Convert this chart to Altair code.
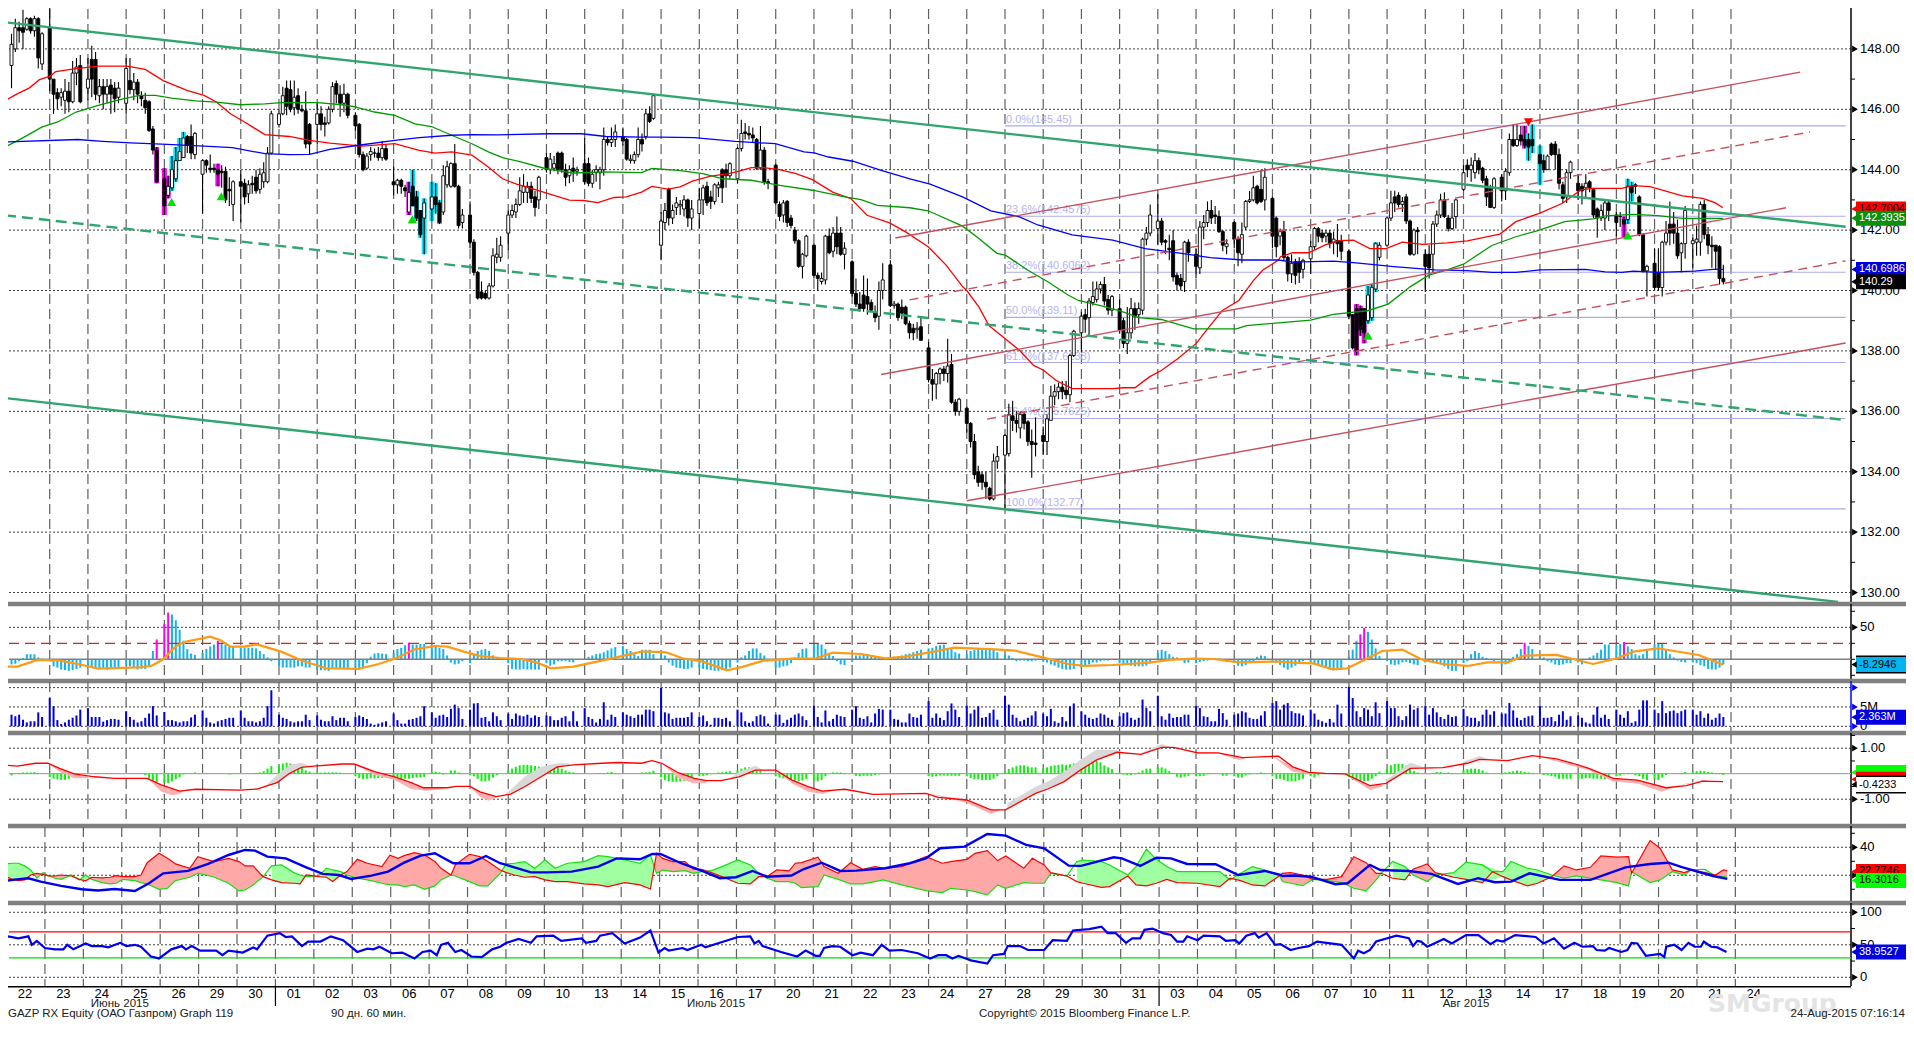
import altair as alt
import pandas as pd

# ---- day grid ----
DAY_LABELS = ["22","23","24","25","26","29","30","01","02","03","06","07","08","09","10","13","14","15","16","17","20","21","22","23","24","27","28","29","30","31","03","04","05","06","07","10","11","12","13","14","17","18","19","20","21","24"]
MONTHS = [("Июнь 2015", 29.5), ("Июль 2015", 184.7), ("Авг 2015", 379.9)]
MONTH_BREAKS = [70, 300]

# ---- hourly candles: open, high, low, close; nine per day ----
CANDLES = [
(147.45,148.5,146.7,148.15),(148,149,147.9,148.7),(148.7,148.9,148.2,148.6),(148.7,149.3,148,148.55),(148.65,149.05,148.6,149),(149,149.05,148.5,148.6),(148.6,149.1,148.4,149),(149,149.05,147.35,147.7),(147.5,148.55,147.3,148.5),
(148.7,149.4,146.6,147),(147,147,145.85,146.5),(146.55,146.7,146,146.35),(146.4,146.7,146.1,146.55),(146.3,147,145.85,146.6),(146.6,146.9,145.9,146.25),(146.25,147.6,146.2,147.2),(147.2,147.7,146.8,147.4),(147.45,147.8,146.2,146.25),
(146.7,147.7,146.3,147),(147.65,148.1,146.4,147),(147.65,147.9,146.3,146.5),(146.45,147,146.2,146.75),(146.75,147,146,146.5),(146.5,147,146.2,146.75),(146.8,147,145.85,146.5),(146.7,146.9,145.9,146.35),(146.4,146.9,146.2,146.7),
(146.2,147.7,145.85,147.35),(146.95,147.7,146.5,146.65),(146.65,147.2,146.3,146.9),(146.9,147,146.2,146.5),(146.45,146.6,146.1,146.35),(146.3,146.55,145.85,146.05),(146.25,146.3,145.25,145.3),(145.35,145.45,144.5,144.65),(144.65,144.75,143.55,143.6),
(143.7,144.05,142.5,142.8),(143.15,143.8,143.05,143.45),(143.4,144.45,143.3,144),(143.7,144.75,143.6,144.3),(144.3,145.05,144.3,144.6),(144.4,145.25,144.4,145.05),(145.1,145.15,144.55,144.8),(145.1,145.5,144.35,144.55),(144.5,145.25,144.35,145.2),
(143.85,144.35,142.55,144.3),(144.3,144.35,143.9,144.15),(144.05,144.5,143.9,144),(144.05,144.2,143.9,144),(144,144.2,143.45,143.85),(143.95,144.15,143.4,143.9),(143.95,144.1,142.9,143),(143.35,143.75,142.8,143.3),(142.85,143.65,142.3,143.6),
(143.6,144,142.25,143.45),(143.55,143.7,142.85,143.1),(143.2,143.65,142.9,143.5),(143.55,143.8,143.2,143.5),(143.75,144,143.2,143.3),(143.35,144.05,143.2,143.85),(143.6,144.25,143.4,143.9),(143.6,144.75,143.55,144.55),(144.55,145.95,144.5,145.85),
(145.5,146,145.4,145.85),(145.85,146.75,145.8,146.45),(146.7,146.95,145.8,146.1),(146.65,146.95,145.9,146),(146.05,146.95,145.8,146.4),(146.45,146.7,145.85,146),(146,146.15,145.9,145.95),(145.95,146.6,144.7,144.85),(145.5,145.55,144.5,144.85),
(145.5,146.2,144.85,145.85),(145.85,146.1,145.3,145.5),(145.55,145.75,145.1,145.5),(145.55,146.1,145.5,146),(146,146.9,145.9,146.75),(146.85,146.95,146.2,146.5),(146.5,146.8,145.75,146.2),(146.2,146.85,145.9,146.5),(146.5,146.55,145.7,145.8),
(145.8,145.9,145.3,145.45),(145.5,145.55,144.4,144.5),(144.5,144.6,143.95,144),(144.05,144.55,144,144.45),(144.5,144.75,144.3,144.6),(144.55,144.7,144.4,144.55),(144.55,144.75,144.3,144.4),(144.4,144.95,144.3,144.7),(144.7,144.85,144.3,144.35),
(143.6,144.1,143.15,143.5),(143.5,143.7,143.2,143.65),(143.65,143.7,143.2,143.45),(143.4,143.5,143.1,143.3),(142.6,143.6,142.5,143.25),(143.45,144,142.8,142.8),(143.1,143.3,142.3,142.4),(142.65,142.65,141.75,141.85),(142.4,143.05,141.2,142.9),
(142.7,143.6,142.3,143.1),(143.1,143.55,142.55,142.85),(142.9,143,142.2,142.25),(142.6,144.15,142.5,143.8),(143.5,144.3,143.4,144.1),(143.45,144.25,143.4,144.2),(144.2,144.85,143.4,143.45),(143.45,143.5,142.05,142.15),(142.25,142.7,142.05,142.5),
(142.5,142.95,141.4,141.6),(141.6,141.7,140.5,140.6),(140.6,140.65,139.7,139.75),(139.95,140.3,139.7,139.75),(139.9,140,139.7,139.75),(139.75,140.25,139.7,140.15),(140.15,141.4,140.1,141.15),(141.1,141.75,140.9,141.2),(141.1,141.8,140.95,141.5),
(141.9,142.65,141.35,142.5),(142.5,142.85,142.4,142.65),(142.6,143.05,142.4,142.85),(142.85,143.75,142.8,143.3),(143.25,143.85,142.9,143.45),(143.25,143.6,142.9,143.45),(143.45,143.6,142.9,143.05),(143.1,143.3,142.45,142.75),(143,143.8,142.7,143.75),
(144.4,144.55,143.9,144),(144,144.55,143.85,144.35),(144.05,144.45,143.95,144.2),(144.55,144.6,143.85,144),(144.55,144.6,143.9,144),(144,144.2,143.45,143.75),(143.8,144.15,143.55,144),(144.05,144.4,143.6,143.95),(143.95,144.1,143.8,144),
(144.2,145.05,143.5,143.6),(144.2,144.4,143.45,143.55),(143.55,144,143.4,143.85),(143.9,144.15,143.6,144),(143.9,144.1,143.35,144),(144,145.4,143.8,145),(145,145.1,144.8,144.9),(144.9,145.4,144.75,145),(145,145.5,144.75,145.25),
(145.1,145.4,144.8,144.95),(145,145.05,144.3,144.35),(144.3,144.5,144.2,144.35),(144.3,144.6,144.2,144.5),(144.5,145.4,144.4,145),(145,145.2,144.6,144.85),(145.1,146,145,145.85),(145.85,146.1,145.55,145.6),(145.7,146.5,145.65,146.45),
(141.5,142.6,141,142.3),(142.25,142.9,142,142.65),(143.35,143.4,142.15,142.4),(142.4,142.85,142.2,142.65),(142.75,143.1,142.5,142.9),(142.8,143,142.5,142.85),(142.7,143.15,142.45,143),(143,143.05,142.1,142.4),(142.4,143,142,142.7),
(142.55,143.4,142.05,143),(143,143.5,142.5,143.4),(143.45,143.6,142.8,142.9),(143.1,143.3,142.7,142.95),(142.95,143.55,142.85,143.5),(143.4,143.6,143.1,143.5),(144,144.05,142.9,143.4),(144,144.2,143.4,143.8),(143.8,144.25,143.7,144.2),
(143.7,144.75,143.55,144.7),(144.7,145.65,144.6,145.2),(145.25,145.55,145,145.2),(145.2,145.45,145,145.15),(145.15,145.4,144.9,145.05),(145,145.05,144,144.05),(144.05,145.45,144,144.65),(144.65,144.75,143.5,143.6),(143.6,143.7,143.35,143.55),
(144.15,144.2,142.85,142.9),(142.85,142.95,142.3,142.45),(142.5,143,142.25,142.9),(142.95,143,142.1,142.25),(142.4,142.5,142.05,142.15),(142,142.1,141.55,141.65),(141.65,141.7,140.75,140.8),(140.8,141.25,140.4,141.2),(141.15,141.85,141.1,141.8),
(141.5,141.55,140.4,140.5),(140.5,140.6,140,140.4),(140.3,140.6,140.2,140.4),(140.35,141.85,140.2,141.8),(141.8,142.05,141.2,141.25),(141.3,142.1,141.1,141.9),(141.9,142.45,141.2,141.45),(141.9,142.1,141.15,141.2),(141.2,141.6,140.7,141.4),
(140.95,141,139.8,139.9),(139.9,140.4,139.45,139.55),(139.55,139.95,139.3,139.4),(139.85,140.5,139.3,139.4),(139.8,140.4,139.2,139.55),(139.6,139.7,139.3,139.35),(139.3,139.5,138.95,139.1),(139.15,140.3,138.7,140),(140,140.9,139.7,140.35),
(140.85,141,139.45,139.5),(139.5,139.65,139.4,139.55),(139.55,139.6,139,139.1),(139.45,139.7,139.05,139.25),(139.45,139.5,138.85,138.9),(138.9,139,138.4,138.6),(138.75,138.9,138.35,138.6),(138.7,138.95,138.4,138.75),(138.8,139.1,138.35,138.35),
(138.1,138.3,136.95,137.05),(137.05,137.4,136.35,136.9),(136.9,137.3,136.4,137.25),(137.25,137.45,136.9,137.4),(137.4,137.5,137,137.25),(137.25,138.4,136.95,137.5),(137.55,137.9,136.25,136.3),(136.3,136.4,135.85,136),(136,136.45,135.85,136.4),
(136.1,136.15,135.3,135.6),(135.6,135.65,134.8,135),(135,135.25,133.75,133.9),(134,134.2,133.5,133.65),(133.9,134,133.4,133.65),(133.65,134,133.1,133.5),(133.45,133.5,133.05,133.1),(133.1,134.6,133.05,134.35),(134.35,134.85,134.1,134.5),
(134.55,135.25,132.8,135.2),(134.6,136.25,134.5,135.9),(135.85,136.35,135.35,135.7),(135.7,136,135.3,135.6),(135.45,136,135.1,135.9),(135.9,136,135.4,135.6),(135.65,135.7,134.85,135),(135,135.4,133.8,134.9),(134.95,135.8,134.5,134.9),
(135.2,135.5,134.55,135),(135,135.9,134.55,135.75),(135.7,136.85,135.7,136.5),(136.5,136.9,136.2,136.65),(136.65,136.95,136.4,136.8),(136.8,137,136.4,136.65),(136.7,137,136.4,136.55),(136.55,137.9,136.3,137.85),(137.85,138.7,137.8,138.65),
(138.6,139.3,137.95,139.15),(139.2,139.4,138.6,139.05),(139.1,139.75,138.5,139.65),(139.6,140.3,139.5,139.8),(139.7,140.3,139.6,140.05),(140.05,140.3,139.9,140.2),(140.2,140.45,139.5,139.65),(139.7,139.85,139.2,139.35),(139.35,139.85,139.15,139.8),
(139.4,139.7,138.6,138.7),(139,139.1,138.1,138.25),(138.25,139.45,137.9,138.6),(138.6,139.75,138.4,139.4),(139.4,139.6,138.7,139.15),(139.2,139.6,138.9,139.4),(139.35,141.75,139.2,141.7),(141.7,142.1,141.5,141.9),(141.9,142.85,141.8,142.5),
(142.05,143.2,141.5,142.3),(142.3,142.4,141.5,141.6),(141.65,141.7,141.2,141.6),(141.4,141.85,141,141.35),(141.65,142,140.3,140.45),(140.5,140.6,140,140.2),(140.4,140.55,140,140.15),(140.3,141.65,139.95,141.6),(141.6,141.7,140.95,141.25),
(141.2,141.4,140.4,140.8),(140.75,142.3,140.55,142.1),(142.1,142.5,141.7,142.25),(142.25,142.95,142.1,142.65),(142.65,143,142.2,142.4),(142.5,142.8,142.2,142.45),(142.45,142.65,141.9,141.95),(141.95,142,141.3,141.5),(141.45,141.7,141.2,141.55),
(142.25,142.3,141.4,141.7),(141.7,141.8,140.8,141.25),(141.2,142.25,140.9,141.85),(142.1,143,142,142.95),(142.95,143.3,142.9,143),(143,143.8,142.95,143.4),(143.45,143.5,142.85,142.9),(143.35,144,142.9,142.95),(143,144.05,142.65,143.75),
(143.05,143.1,141.4,141.8),(142.4,142.45,141.1,141.45),(141.8,142.05,141.5,141.95),(141.95,142.3,141,141.1),(141.1,141.15,140.3,140.55),(140.55,141.2,140.25,140.9),(140.95,141.05,140.2,140.5),(140.95,141.1,140.25,140.6),(140.7,141.05,140.4,141),
(141.05,141.65,140.55,141.45),(141.45,142.1,141.35,142.05),(142.05,142.1,141.6,141.8),(141.9,142,141.6,141.75),(141.8,142,141.6,141.9),(141.9,142,141.4,141.55),(141.6,141.95,141.2,141.7),(141.65,142.2,141.1,141.55),(141.65,141.85,141,141.3),
(141.3,141.35,139.05,139.15),(139.2,139.2,138.05,138.1),(139.4,139.55,137.85,138),(139.4,139.5,138.5,138.7),(139.4,139.4,138.25,138.6),(139,140.15,138.9,139.85),(139.1,140.2,139,140.1),(140.05,141.6,139.95,141.55),(141.1,141.6,141,141.5),
(141.5,142.45,141.45,142.4),(142.4,143.3,142.3,142.9),(143.1,143.3,142.6,142.9),(143.15,143.25,142.75,142.85),(142.85,143.1,142.6,142.95),(143.1,143.2,142.2,142.3),(142.3,142.35,141.15,141.2),(141.2,142.05,141.15,142),(142,142.1,141.2,141.95),
(141.2,141.35,139.95,140.8),(141.2,141.5,140.4,140.75),(141.2,142.3,140.6,142.2),(142.2,142.65,142.1,142.5),(142.5,143.2,142.4,143),(143,143.25,142.4,142.45),(142.4,142.5,141.95,142.05),(142.05,142.9,142,142.4),(142.45,143.05,142.05,143),
(143.35,144.15,143.3,143.9),(144.15,144.35,143.75,144),(144,144.4,143.6,144.15),(143.9,144.55,143.7,144.3),(144.3,144.4,143.85,144),(144.05,144.1,143.55,143.65),(143.7,143.8,142.8,143.1),(143.4,143.5,142.75,142.75),(142.75,143.75,142.7,143.7),
(143.75,143.85,142.95,143.3),(143.3,144.05,143,143.95),(143.9,145.2,143.8,145),(145,145.5,144.75,144.8),(144.8,145.5,144.75,145),(145.15,145.45,144.8,144.95),(145,145.45,144.7,144.8),(145,145.2,144.3,144.75),(145,145.5,144.55,144.8),
(144.5,144.8,143.5,144.2),(144.3,144.5,143.9,144),(144,144.5,144,144.45),(144.85,144.9,144.45,144.5),(144.85,144.95,144,144.5),(144.5,144.7,143.35,143.55),(143.5,143.6,142.9,143.05),(143.1,144,142.9,143.9),(143.9,144.3,143.7,144.25),
(143.55,143.85,143,143.3),(143.45,143.55,142.85,143.3),(143.4,143.85,143.1,143.55),(143.6,143.65,143.25,143.4),(143.35,143.4,142.4,142.5),(142.7,142.75,141.75,142.4),(142.4,142.85,142.3,142.65),(142.4,143,142,142.9),(142.9,143,142.3,142.65),
(142.5,142.6,141.8,142.25),(142.45,142.6,142.1,142.45),(142.35,142.45,141.75,142.2),(142.35,143.7,142.2,143.45),(143.45,143.6,142.95,143.25),(143.5,143.55,143.2,143.45),(143.1,143.15,141.8,141.85),(141.85,141.9,140.6,140.65),(140.65,140.85,139.8,140.8),
(140.9,141.4,140,140.1),(140.6,141.4,140,140.1),(140.1,141.65,139.8,141.6),(141.6,142.3,141.5,141.9),(142.2,142.95,141.5,141.9),(142.2,142.6,141.55,141.9),(141.9,142.35,141.05,141.15),(141.25,141.6,140.6,141.55),(141.55,142.8,141.05,142.65),
(141.55,141.75,140.75,141.65),(141.6,142.15,141.15,141.7),(141.6,142.95,141.15,142.85),(142.85,143,141.7,141.85),(141.85,142.1,141.2,141.5),(141.5,141.8,140.75,141.45),(141.5,141.5,140.7,141.3),(141.45,141.5,140.2,140.4),(140.4,140.85,140.2,140.29),
]
MAGENTA_BARS = [38, 40, 41, 54, 104, 352, 353, 354, 396, 422]
CYAN_BARS = [42, 43, 44, 45, 105, 106, 107, 108, 110, 111, 112, 355, 356, 357, 397, 398, 400, 423, 424]
BUY_MARKS = [(41.9, 142.93), (54.9, 143.12), (104.9, 142.36), (355, 138.5), (423, 141.82)]
SELL_MARKS = [(397, 145.57)]

MA_RED_I = [-1.7,1.5,4.7,7.3,10,11.6,16.4,22.7,30.2,35,39.7,46.1,50.4,53.6,57.3,61,66.3,72.7,78,83.3,91.8,100.3,106.7,110.9,115.2,120.5,124.8,128.5,132.2,137.5,146,149.7,153.5,157.7,160.9,164.9,167.6,171.8,175,178.2,183,187.8,190.4,193.6,196.8,201,205.3,209.6,214.9,219.7,223.9,229.8,234,239.9,244.6,248.9,250,253.2,255.8,259.5,263.8,267.5,270.1,273.3,277.6,288.2,290.9,294,297.8,301,305.2,310,312.7,316.9,321.2,325,327.5,331.6,332.1,335.3,339.5,343.8,347.5,351.2,355.5,359.7,364,369.3,375.7,381,389.5,393.7,400,405.9,410.7,413.9,421.4,424.5,428.8,437.3,442.6,445.8,447.9]
MA_RED_P = [146.29,146.51,146.71,146.98,147.09,147.25,147.34,147.43,147.43,147.32,146.95,146.62,146.46,146.24,145.85,145.58,145.16,145.1,144.97,144.88,144.78,144.86,144.64,144.55,144.59,144.48,144.09,143.7,143.52,143.32,142.99,142.98,142.91,143.08,143.1,143.26,143.45,143.36,143.43,143.62,143.79,143.87,143.95,144.07,144.07,144,143.87,143.67,143.26,143.04,142.49,142.24,141.94,141.45,140.84,140.13,140,139.45,138.84,138.46,138.02,137.52,137.36,137.03,136.75,136.75,136.78,136.78,137.14,137.36,137.74,138.24,138.68,139.34,139.67,140.33,140.68,141.01,141.12,141.25,141.25,141.51,141.65,141.67,141.39,141.39,141.6,141.53,141.58,141.64,141.87,142.28,142.56,142.89,143.33,143.38,143.38,143.47,143.44,143.13,143.05,142.91,142.74]
MA_GREEN_I = [-1.7,2.6,7.9,12.1,16.9,22.7,28.1,33.4,37.6,41.9,48.2,53.6,59.9,66.3,70.6,80.1,86.5,89.7,95,100.3,105.6,109.9,115.2,120.5,124.8,128.5,133.3,139.6,147.1,154.5,164.9,167.6,174.5,180.9,186.2,193.6,201.1,209.6,218.1,222.3,226.6,235.1,239.9,248.9,252.6,257.9,260.1,265.9,271.2,276.5,279.2,285,290.3,295,300.9,309.4,320.6,323.2,331.6,340,345.9,354.9,360.3,366.1,370.9,375.7,380,387.4,393.7,399,406.5,413.9,417.1,424.5,430.9,437.3,447.9]
MA_GREEN_P = [144.75,145.03,145.41,145.58,145.91,146.13,146.31,146.46,146.46,146.37,146.28,146.24,146.15,146.18,146.22,146.22,146.15,146.09,145.91,145.8,145.52,145.43,145.14,144.86,144.59,144.4,144.26,144.04,143.89,143.93,143.9,144.04,143.98,143.87,143.7,143.65,143.48,143.32,143.1,143.01,142.82,142.74,142.64,142.13,141.78,141.23,141.17,140.68,140.29,139.85,139.67,139.5,139.32,139.1,139.04,138.73,138.73,138.84,138.93,139.02,139.21,139.33,139.55,140.13,140.51,140.68,140.87,141.49,141.78,141.97,142.28,142.37,142.47,142.52,142.48,142.39,142.39]
MA_BLUE_I = [-1.7,17.4,23.8,31.2,40.8,50.4,57.8,66.3,72.7,78,83.3,90.8,100.3,106.7,115.2,120.5,126.9,140.7,149.2,155.6,164.9,170.2,178.7,189.4,199.9,207.4,210.1,213.8,220.2,227.6,235.1,240.4,248.9,256.3,263.8,268.6,277.6,288.2,296.7,306.2,313.7,322.2,331.6,335.3,345.9,351.2,361.8,372.5,381,387.4,393.7,400,411.8,417.1,421.4,424.5,430.9,440.5,445.3,447.9]
MA_BLUE_P = [144.92,145,144.94,144.89,144.84,144.78,144.73,144.53,144.5,144.51,144.67,144.81,144.97,145.06,145.14,145.16,145.15,145.19,145.19,145.1,145.08,145.08,145.06,144.94,144.86,144.59,144.56,144.42,144.28,143.98,143.7,143.52,143.1,142.64,142.44,142.17,141.84,141.67,141.39,141.23,141.09,141.01,141.01,140.94,140.97,140.92,140.79,140.68,140.66,140.6,140.6,140.68,140.7,140.62,140.6,140.64,140.6,140.64,140.7,140.7]

# trend lines: start bar, start price, end bar, end price
GREEN_SOLID = [(-1.7,148.88,480,142.11), (-1.7,136.44,478,129.69)]
GREEN_DASH = [(-1.7,142.49,480,135.71)]
RED_SOLID = [(231.3,141.74,468.1,147.23), (227.6,137.22,464.4,142.74), (250,133.04,480,138.26)]
RED_DASH = [(235,139.69,470.7,145.25), (255.3,135.74,480,140.98)]
FIB_LEVELS = [145.45,142.4575,140.6062,139.11,137.6138,135.7625,132.77]
FIB_TEXTS = ["0.0%(145.45)","23.6%(142.4575)","38.2%(140.6062)","50.0%(139.11)","61.8%(137.6138)","76.4%(135.7625)","100.0%(132.77)"]

# ---- oscillator histogram and signal ----
OSC_HIST = [
-8,-7,-3,2,8,8,8,3,-2, -2,-11,-13,-16,-17,-18,-17,-15,-13, -10,-13,-13,-15,-15,-16,-15,-15,-15, -9,-11,-13,-16,-15,-15,-12,13,31,
55,73,70,61,46,29,16,9,7, 10,16,20,23,29,26,23,20,20, 18,18,18,18,17,13,8,3,-3, -10,-13,-13,-13,-13,-11,-11,-13,-13,
-16,-17,-17,-18,-14,-14,-14,-14,-14, -13,-15,-13,-6,4,9,10,9,8, 10,16,18,22,26,23,23,24,24, 23,21,18,16,6,-5,-8,-7,-3,
-6,8,13,15,16,13,6,3,2, -6,-15,-16,-16,-15,-16,-16,-16,-16, -6,-10,-8,-3,-3,-3,-4,-5,0, 1,4,6,8,9,11,14,17,19,
21,16,13,8,5,15,15,15,8, 9,6,-5,-10,-13,-14,-15,-15,-13, -13,-15,-16,-17,-18,-18,-17,-16,-13, -5,3,6,13,17,17,10,6,-3,
-13,-13,-11,-10,-6,3,10,16,17, 25,25,23,16,10,5,-3,-8,-9, -4,6,6,8,8,6,5,3,3, 2,4,5,6,8,9,11,13,15,
17,18,21,22,23,18,16,11,9, 8,13,15,16,17,17,16,15,11, 8,6,2,-3,-2,-2,-3,-3,-2, -4,-5,-8,-10,-13,-15,-16,-16,-15,
-13,-10,-8,-5,-5,-3,-2,-2,0, -6,-8,-9,-10,-11,-11,-11,-10,-6, 10,15,13,8,4,3,0,-6,-5, -6,-4,-3,-2,2,2,1,-3,-4,
-6,-10,-11,-9,-5,-4,4,6,5, -5,-6,-9,-13,-16,-13,-10,-6,-3, -5,-8,-9,-11,-13,-16,-17,-17,-16, 4,15,29,39,49,43,31,17,5,
-3,-8,-9,-8,-5,-4,-6,-8,-9, -5,-3,-4,-6,-8,-11,-15,-18,-18, -6,-3,8,13,10,4,2,0,-3, -10,-8,-3,4,8,16,26,21,16,
9,3,-3,-5,-8,-9,-8,-6,-6, -5,-8,0,3,6,10,15,23,23, 23,24,27,20,16,8,6,8,15, 23,25,25,16,8,3,-2,-4,-5, -5,-6,-9,-11,-15,-16,-16,-13,-8,
]
MAGENTA_HIST = [38, 40, 41, 54, 104, 353, 354, 396, 422]
OSC_SIG_I = [-1.7,1.5,4.7,6.8,12.6,17.4,22.7,33.4,36.6,39.7,42.9,45.1,49.3,52,54.6,57.3,61,64.2,70.6,75.9,82.3,90.8,96.1,100.3,105.6,110.9,114.1,118.4,122.6,128,133.3,137.5,141.2,147.1,154.5,164.9,167.1,171.3,175.6,180.9,187.3,191.5,196.8,204.3,210.6,214.9,222.3,228.7,234,241.4,246.8,257.4,262.7,270.1,276.5,280.7,288.2,297.8,303.1,309.4,314.7,321.2,331.6,335.3,340.6,345.9,349.6,354.4,358.7,364,369.3,374.6,381,386.3,391.6,395.9,404.3,408.6,413.9,420.3,424.5,430.9,435.1,441.5,447.9]
OSC_SIG_V = [-11.5,-11.5,-5.2,-1,-2,-7.3,-14.6,-12.5,-10.4,0,19.8,27,31.8,35.4,30.2,19.8,19.8,23.4,12,-2,-14,-15,-7.3,1,15.6,20.8,19.8,12,5.2,2,.5,-5.2,-14,-11.5,-2,12,12,10.9,1.6,-3.6,-17.2,-11.5,-2,1,1.6,10.4,8.3,1.6,4.2,12,18.2,15.6,13.5,2.6,-7.3,-10.4,-8.9,-5.2,-1,1,.5,-4.7,-3.6,-5.2,-6.3,-15.6,-14,0,13,15.1,-1,-7.3,-10.4,-4.7,-4.7,5.7,6.8,.5,-7.3,1.6,12,17.2,13,6.8,-8.3]

# ---- volume, millions ----
VOLUME = [
3,2.6,3,1.7,1,1.3,1.3,3.6,2.4, 7.3,5.2,1.6,.6,1,1.7,2.2,2.8,4.3, 4.7,2.4,2.4,2.4,1.2,1.6,1.9,1.9,1.7, 3.9,2.4,1.7,1,1.3,2.2,3.3,5.2,2.8,
3.7,1.6,1.6,1.3,1,1.3,1.3,2.3,3, 4.1,2.2,1,.7,1.3,1.6,1.9,2.2,2.2, 4.1,2.2,1.3,1.3,1,1.3,2.2,5.2,9.3, 3,2.2,1.9,1.3,1,1.3,1.3,3,1.6,
2.8,1.7,1.3,1.3,2.6,1.6,2.2,2.2,1.3, 2.4,2.8,2.4,1.9,.7,.4,.7,1,1.3, 3.3,1.6,.7,.7,1.7,1.9,2.2,2.6,5.2, 3.6,2.2,2.8,3,2.4,4.5,5.6,4.7,1.9,
4.3,5.9,6,2.2,2.4,1.3,3.6,2.6,1.6, 3.3,1.9,3.3,2.8,2.6,3,2.2,2.8,2.4, 2.8,2.6,1.6,1.6,2.2,2.6,1.3,3.9,1.3, 4.7,2.4,1.9,1,1.9,6.2,1.7,3,2.4,
3.6,3,2.6,2.2,3,3,4.3,4.3,3.9, 9.9,3.6,3.3,1.9,2.2,2.2,2.2,2.4,3.6, 2.4,2.8,1.3,.4,2.2,2.2,1.9,2.2,1.3, 4.3,3.6,1.3,.9,1.3,2.6,3,2.6,.7,
3,3,.9,1.7,2.2,3,3.3,2.6,1.6, 5.3,2.4,1,4.1,1.3,1.9,3,2.6,2.4, 4.3,5.2,2.2,1.9,2.6,1,3.3,4.5,4.3, 4.3,1.9,1.7,1,1,3.3,2.4,2.2,3,
6.5,2.2,3.3,2.2,1.6,3.9,5.9,4.3,2.4, 5.3,3.3,4.3,5.2,2.2,2.4,3.4,4.3,1.7, 7.9,5.6,3,2.2,1.3,1.7,2.2,2.8,3.9, 3.3,2.6,4.5,1.3,.9,2.4,1.3,5.2,5.9,
3.9,3,2.2,1.9,2.2,3.3,3,2.2,1.7, 2.6,3.4,3.6,2.2,1.7,2.2,6.9,4.7,3.9, 7.9,2.6,1.7,3.3,2.2,2.4,2.4,3,3, 5.2,4.7,2.6,2.4,1.3,1.3,4.5,3.4,1.7,
3,3.3,3.9,3.6,2.2,1.9,1.9,2.8,3.9, 6,6.5,4.3,5.6,6,3.9,3.4,3.3,2.8, 4.3,3.3,1.7,1.3,.9,1.9,1,5.6,3.3, 10.2,7.3,3.9,2.4,4.7,4.3,2.6,6.2,3.4,
6.5,4.7,4.7,2.6,1.6,2.6,5.6,4.3,4.7, 5.2,3,4.7,3.6,2.4,1.9,3,2.4,2.6, 4.5,2.6,2.2,2.2,1.3,3,4.3,3,3.9, 3.3,3.3,6,4.1,2.2,1.6,2.2,2.6,2.8,
5.2,2.2,2.2,2.4,1.3,3,3.9,1.7,2.6, 2.8,2.2,1,.7,3,5,2.2,3,1.9, 4.3,3,2.2,3.9,.9,1.3,4.3,6.7,6.7, 4.3,3.4,6.5,3.4,3.9,4.1,3.4,3.9,4.3, 4.3,3,3.9,2.2,3.3,1.7,2.2,3.3,2.4,
]

# ---- MACD histogram, line and shaded gaps ----
MACD_HIST = [
-.07,.03,.03,.05,.05,.05,.06,.02,0, -.13,-.2,-.22,-.24,-.24,-.2,-.1,-.07,0, 0,0,.03,.03,.03,.03,.02,0,0, 0,0,0,0,0,-.05,-.2,-.27,-.33,
-.35,-.37,-.3,-.22,-.13,-.03,0,0,.05, 0,.03,0,0,0,0,0,-.03,0, 0,0,0,0,.03,.05,.1,.2,.3, .3,.4,.43,.4,.37,.3,.22,.13,.08,
.06,.04,.05,.05,.06,.05,.04,.02,0, -.1,-.17,-.22,-.2,-.18,-.18,-.17,-.17,-.17, -.2,-.22,-.22,-.2,-.2,-.17,-.15,-.15,-.13, .07,.08,.05,-.03,.02,.13,.13,.05,.03,
-.06,-.1,-.2,-.3,-.3,-.27,-.15,-.05,0, .13,.2,.27,.33,.35,.35,.33,.3,.28, .3,.33,.33,.28,.2,.13,.07,.05,.02, .02,0,0,0,.03,.03,.05,.07,.03,
.03,0,0,0,0,.05,.05,.07,.12, -.15,-.25,-.3,-.32,-.32,-.3,-.28,-.25,-.2, -.1,-.08,-.05,-.02,0,.05,.06,.08,.1, .13,.2,.25,.25,.22,.18,.12,.03,0,
-.1,-.15,-.18,-.2,-.25,-.27,-.3,-.27,-.2, -.27,-.3,-.25,-.1,0,.05,.05,.05,.03, 0,-.08,-.1,-.08,-.08,-.08,-.05,-.03,.02, .02,.02,0,0,0,0,0,0,0,
-.1,-.12,-.1,-.07,-.07,-.08,-.08,-.08,-.08, -.1,-.17,-.22,-.22,-.25,-.25,-.25,-.2,-.1, .08,.18,.25,.3,.33,.33,.28,.25,.25, .2,.25,.3,.33,.35,.37,.35,.37,.4,
.47,.52,.52,.5,.5,.45,.33,.25,.18, .05,-.03,-.05,-.05,-.02,.05,.13,.2,.2, .27,.25,.2,.1,.02,-.12,-.15,-.12,-.08, -.1,-.1,-.08,-.02,-.01,0,0,-.08,-.08,
-.1,-.15,-.15,-.07,-.03,0,.02,.05,.03, -.1,-.2,-.2,-.25,-.3,-.3,-.3,-.25,-.2, -.1,-.15,-.05,0,0,0,0,0,0, -.15,-.25,-.3,-.3,-.3,-.28,-.2,-.1,.08,
.2,.33,.38,.4,.38,.32,.2,.1,.05, .02,0,.03,.07,.07,.03,.05,.02,.02, .13,.18,.2,.2,.18,.13,.05,0,0, -.03,.05,.07,.1,.13,.1,.07,.05,.03,
0,-.05,-.05,-.1,-.12,-.2,-.2,-.2,-.2, -.2,-.2,-.18,-.18,-.2,-.2,-.2,-.22,-.2, -.1,-.07,-.02,.03,0,-.05,-.1,-.2,-.25, -.22,-.25,-.15,-.05,0,0,0,.03,.07, .07,.1,.12,.1,.07,.05,.03,.02,-.05,
]
MACD_I = [-1.7,1.5,6.3,9.5,12.6,16.4,21.7,27,35.5,39.2,44,48.2,59.9,64.2,69.5,72.7,75.9,79.1,86.5,89.7,95,100.3,104.6,107.8,114.1,116.3,120,122.6,126.9,130.6,134.3,138.6,142.8,147.1,154.5,158.8,164.9,167.6,170.2,174.5,178.7,181.9,185.7,190.4,194.7,200,204.3,208.5,212.2,218.1,225.5,239.3,242.5,250,256.3,260.1,268,271.2,275.5,279.7,284,289.3,295.6,301,304.1,310.5,315.8,322.2,331.6,335.3,339.5,343.8,349,355.5,359.7,366.1,374.6,381,384.2,391.6,398,404.3,408.6,412.8,419.2,425.5,433,438.3,442.6,447.9]
MACD_V = [.34,.3,.41,.41,.21,-.01,-.12,-.18,-.18,-.44,-.68,-.61,-.64,-.6,-.35,.01,.25,.3,.38,.38,.08,-.12,-.35,-.55,-.55,-.5,-.5,-.71,-.9,-.8,-.51,-.12,.27,.35,.41,.44,.41,.51,.41,.04,-.18,-.27,-.27,-.12,.14,.14,-.25,-.51,-.68,-.61,-.81,-.77,-.93,-1.03,-1.42,-1.42,-.77,-.6,-.31,.14,.54,.84,.76,1.03,1.03,.82,.82,.63,.69,.27,.05,.01,-.01,-.47,-.38,.21,.24,.41,.56,.51,.71,.58,.41,.21,-.18,-.25,-.55,-.47,-.29,-.31]
PINK_GAPS = [
[(9.5,.41,.41),(12.6,.21,.08),(16.4,-.01,-.18),(20.1,-.12,-.18)],
[(35.5,-.18,-.18),(39.2,-.44,-.7),(41.9,-.6,-.84),(44,-.68,-.8),(45.1,-.66,-.67)],
[(89.7,.38,.38),(95,.08,-.05),(100.3,-.12,-.25),(104.6,-.35,-.6),(108.8,-.57,-.67),(113.1,-.57,-.61)],
[(120,-.5,-.5),(122.6,-.71,-.9),(124.8,-.8,-1.06),(126.9,-.9,-.93)],
[(170.2,.41,.41),(174.5,.04,-.18),(178.7,-.18,-.38),(181.9,-.27,-.35)],
[(200,.14,.14),(204.3,-.25,-.38),(208.5,-.51,-.71),(212.2,-.68,-.8),(214.9,-.64,-.67)],
[(239.3,-.77,-.77),(250,-1.03,-1.14),(256.3,-1.42,-1.58),(258.4,-1.42,-1.45)],
[(304.1,1.03,1.03),(310.5,.82,.77),(315.8,.82,.79),(321.2,.63,.54),(323.3,.63,.63)],
[(330,.69,.69),(335.3,.27,.08),(339.5,.05,-.01),(341.6,.04,.03)],
[(349,-.01,-.01),(355.5,-.47,-.64),(358.7,-.42,-.51)],
[(400,.67,.67),(408.6,.41,.3),(412.8,.21,.14),(419.2,-.18,-.31),(425.5,-.25,-.38),(431.9,-.54,-.71),(435.1,-.51,-.54)],
]
GRAY_GAPS = [
[(66.3,-.5,-.5),(69.5,-.35,-.05),(72.7,.01,.34),(75.9,.25,.43),(78,.28,.3)],
[(129,-.87,-.84),(134.3,-.51,-.12),(138.6,-.12,.27),(142.8,.27,.41),(146,.35,.41)],
[(187.8,-.22,-.22),(190.4,-.12,.08),(194.7,.14,.31),(196.8,.14,.14)],
[(260.6,-1.36,-1.16),(268,-.77,-.51),(271.2,-.6,-.31),(275.5,-.31,.08),(279.7,.14,.54),(284,.54,.95),(289.3,.84,.93),(291.4,.8,.8)],
[(295.6,.76,.8),(301,1.03,1.16),(304.1,1.03,1.03)],
[(359.7,-.38,-.25),(366.1,.21,.43),(369.3,.24,.27)],
[(379.9,.37,.47),(384.2,.56,.69),(387.4,.54,.54)],
[(437.3,-.44,-.41),(442.6,-.29,-.25),(445.8,-.31,-.31)],
]

# ---- directional movement ----
DMI_I = [-1.7,-.1,1.5,3.1,4.7,6.3,7.9,9.5,11,12.6,14.2,16.9,19,20.6,22.2,24.9,27,28.6,30.2,33.4,35,36.6,39.7,41.9,44,47.7,49.8,52,54.1,57.8,60.5,62.1,64.2,66.8,69,71.6,74.8,76.4,78,81.2,83.3,84.9,87,88.6,91.3,93.9,97.7,99.8,101.9,103.5,106.2,108.8,111.5,113.1,115.7,116.8,120.5,123.2,125.3,128.5,130.1,132.2,134.9,137.5,140.2,142.8,146,150.3,154,156.6,160.9,164.9,
167.6,169.2,170.8,173.4,176.6,178.8,180.9,183.5,186.2,190.4,193.6,195.8,197.9,200.5,203.7,205.3,206.9,211.2,212.8,216.5,219.7,222.9,226.1,228.2,233,239.3,243.6,245.7,250,252.1,255.3,258,260.1,264.8,267,270.1,271.8,276,278.6,280.2,285,287.1,291.9,294,296.7,299.3,302,304.7,310,315.8,318.5,321.2,324.3,327.5,331.3,
332.1,334.2,337.4,340,343.8,347.5,350.7,353.9,356.5,357.8,360.8,364,366.1,369.8,371.9,376.7,379.9,384.2,386.8,389.5,391.6,395.9,398.5,402.2,405.4,408.6,412.3,415,419.2,422.2,423,427.8,430.4,433.6,436.8,438.4,442.1,444.8,446.9,447.9]
DMI_RED = [21.4,19,17.1,16.2,16.7,20.2,21.4,20.7,19.5,19.5,20.2,19.5,17.1,16,18.6,18.1,18.6,19.8,19,19,20.2,29,35.7,32.1,28.1,25,33.3,31.4,29.8,32.1,29.8,26.7,26.7,19,16.7,14.8,14.3,13.8,20.2,19,18.6,15.5,20.2,22.6,31.4,28.6,26.2,34.3,32.1,34,36.2,34.5,29.8,25,20.2,27.4,35,33.3,29.8,23.8,21.9,20.2,18.6,19,16.7,15.5,15.5,13.8,13.1,11.9,14.8,13.1,
10.2,35.7,32.1,29.8,29.8,24.3,24.3,21.9,19,14.3,13.8,19,19,23.8,23.1,28.6,29,32.9,26.2,21.4,29,24.3,26.2,25,26.2,33.3,28.6,29.8,31.4,35.7,37.6,30.5,33.8,25,32.1,27.4,21.9,19.5,15.5,14.3,11.4,11.9,19.5,13.1,12.4,14.3,17.1,14.8,14.3,11.9,17.9,16.2,13.1,12.4,19.5,
21.4,21.9,20.2,17.1,17.1,19,33.3,29,21.4,21.4,17.9,16.7,24.3,28.1,21.9,18.6,17.1,14.8,22.6,19,16.7,12.4,14.3,19,26.7,23.8,25.7,33.8,32.9,33.3,21.4,44.8,39.3,23.8,21.9,23.8,21.9,20.2,23.8,23.3]
DMI_GREEN = [22.6,28.1,28.6,28.6,26.7,23.8,17.9,21.9,19.5,17.9,17.1,20.2,16.7,20.2,17.1,14.8,13.8,14.3,17.1,16.2,14.8,13.8,10,10.7,16.2,18.6,21.4,20.2,18.6,14.3,8.8,9.5,13.1,19,26.7,27.4,21.9,20.2,19,19.5,25,23.8,22.6,20.2,17.9,16.7,14.3,13.1,13.1,11.9,13.1,10,12.4,16.7,20.2,19.5,15.5,12.4,12.4,21.4,28.1,28.6,29.8,25,30.9,25,28.6,29.8,34,33.3,30.9,28.6,
34.5,21.4,23.8,22.6,23.3,21.4,22.6,23.3,26.2,30.9,27.4,21.4,17.9,15.5,15.5,14.3,11.2,11.9,20.2,17.1,13.8,13.8,15.5,16.7,13.1,9.1,7.6,10.7,9.5,8.3,6,13.1,10.7,14.8,14.3,14.3,21.4,19.5,29.8,30.9,29.8,27.4,20.2,26.2,38.6,31.4,26.2,22.6,22.6,22.6,16.7,21.4,26.2,23.8,20.2,
15.5,14.3,12.6,17.1,16.2,14.8,10.7,8.8,16.7,21.4,29.8,26.2,20.2,15.5,20.2,21.9,29.3,27.4,22.6,22.6,29.8,25,23.8,20.2,17.9,19.5,17.9,16.7,14.8,12.4,22.6,14.8,16.7,22.6,20.2,23.8,24.3,19.5,19,18.6]
ADX_I = [-1.7,2.6,5.7,8.9,14.2,19.6,23.8,28.1,33.4,37.1,40.8,47.2,52.5,57.8,62.1,64.7,67.9,72.7,78,82.3,86.5,89.7,95,99.3,103.5,107.8,111.5,116.3,120.5,124.8,128.5,132.2,136.5,140.7,147.1,154,158.8,164.9,168.1,170.2,175.6,180.9,185.7,189.9,194.2,197.9,204.3,207.4,212.2,217,221.2,228.7,235.1,239.3,243,249.4,255.3,260.1,265.4,270.1,276.5,279.7,288.2,290.3,295.1,299.3,303.1,307.3,314.7,320.6,327.5,331.6,332.1,335.3,339.5,345.9,349.1,354.9,357.6,365,370.9,377.8,383.1,387.4,391.6,396.4,404.3,412.3,421.4,427.8,432.6,436.3,444.2,447.9]
ADX_V = [15.5,17.1,17.9,15.5,12.4,10,9.1,10.2,8.8,14.3,21.4,23.1,28.1,34.5,38.1,37.6,33.3,32.1,25.7,21,20.2,17.4,19.8,22.6,29,34,35.7,28.6,28.6,33.8,28.6,25.7,22.1,22.1,22.6,26.2,32.1,31.4,35.2,35.2,28.6,23.3,17.9,18.6,23.1,19,19.8,24.3,29,23.1,23.3,25,28.6,32.1,39.3,40.5,49.5,48.3,41.7,39.3,26.9,26.7,32.9,32.1,26.7,32.6,32.1,28.1,27.9,20.2,23.1,20.2,19.5,19.8,19,13.6,14.3,27.4,23.8,23.1,21,13.8,17.9,15,15.5,21.4,16.7,16.7,25.7,28.1,29,25.7,19.5,17.4]

# ---- RSI ----
RSI_I = [-1.7,.4,3.1,5.7,6.6,7.9,10,12.6,14.8,15.8,17.4,20.6,22.2,24.9,26.5,29.6,31.2,33.4,35,37.6,39.7,42.9,45.6,46.7,48.2,50.4,54.6,56.2,57.8,61.5,64.2,65.2,67.9,71.1,72.7,74.3,76.9,78.5,81.7,84.4,87.6,91.3,93.9,95.5,97.1,100.3,103,106.2,108.3,110.4,112,113.1,114.9,116.8,118.4,121,123.7,126.4,128.5,130.1,133.3,136.5,138,142.3,144.4,149.7,150.8,153.5,154.5,157.7,160.9,164.9,
167.6,169.7,171.3,172.4,176,177.2,180.9,181.9,186.7,190.4,193.6,194.7,195.8,196.8,201.6,205.8,208,210.6,211.7,212.8,214.9,217,220.2,222.3,225.5,227.8,229.8,233,237.2,240.4,242.5,244.6,246.2,247.8,251,255.3,256.8,259.6,260.6,263.8,265.9,270.1,272.3,276,277.6,281.8,285,286.6,288.7,291.4,293,295.1,296.2,298.3,301,303.1,304.7,306.3,307.3,310,311.6,315.8,317.4,319.8,320.9,322.7,324.9,325.9,328,330.2,331.6,
334.2,336.3,339,341.1,347.5,350.7,351.8,353.3,354.9,356.5,361.8,365,366.1,367.2,368.2,369.8,374.1,376.2,379.9,383.1,386.3,387.9,389.5,392.7,398,400.1,402.8,405.4,408.1,410.2,412.9,413.9,416,417.1,420.3,421.9,423,424.5,426.7,430.4,431.5,432,434.1,436,437.8,439.4,441,441.8,443.7,445.3,447.7]
RSI_V = [53,63,60,63,50,56,45,43,43,50,43,52,48,48,46,53,48,50,47,32,29,43,48,43,48,41,41,34,41,38,46,43,64,68,62,63,48,55,55,63,57,39,44,43,47,37,38,29,39,41,34,50,53,39,42,32,31,43,47,53,59,53,63,64,56,60,53,56,64,68,52,61,
72,38,45,41,45,42,50,46,55,62,63,52,56,48,39,32,41,33,33,45,48,47,34,38,34,50,41,42,37,29,34,34,29,33,26,21,34,36,48,48,42,42,57,56,72,74,78,68,68,53,60,60,73,75,68,65,55,55,63,57,64,63,56,57,52,64,68,61,68,50,51,
42,45,48,55,50,29,41,37,42,55,64,60,48,56,55,47,59,52,65,65,51,57,55,65,62,52,60,44,53,47,48,42,41,45,39,42,53,52,33,36,31,47,50,42,53,47,47,55,47,46,39]

W = 1843
TAIL = 55
XS = alt.Scale(domain=[0.39, 480.1], nice=False, zero=False)
FONT = "Liberation Sans"

def X(f):
    return alt.X(f, type="quantitative", scale=XS, axis=None)

def X2(f):
    return alt.X2(f)

def Y(f, sc):
    return alt.Y(f, type="quantitative", scale=sc, axis=None)

def V(x):
    return alt.value(x)

bar_i = []
for d in range(45):
    for k in range(9):
        bar_i.append(d * 10 + k)

def scale(lo, hi):
    return alt.Scale(domain=[lo, hi], nice=False, zero=False)

BOUNDS = [d * 10 for d in range(1, 46)]

def span(h, y0, y1, color, x0=0, x1=W + TAIL):
    """Solid band in panel pixels (a rect, so it adds nothing to the layout bounds)."""
    return alt.Chart(pd.DataFrame({"a": [0]})).mark_rect(color=color).encode(x=V(x0), x2=V(x1), y=V(y0), y2=V(y1))

def frame(sc, h, ticks, labels, axis_color="black", minor=(), arrow_color="black", grid_ticks=None):
    """Axis line, labels, grid, day rules, minor ticks and arrows of one panel."""
    g = grid_ticks if grid_ticks is not None else ticks
    hgrid = alt.Chart(pd.DataFrame({"v": g})).mark_rule(stroke="#404040", strokeWidth=1, strokeDash=[2, 2]).encode(x=V(1), x2=V(W), y=Y("v", sc))
    vgrid = alt.Chart(pd.DataFrame({"i": BOUNDS})).mark_rule(stroke="#606060", strokeWidth=1.2, strokeDash=[10, 5]).encode(x=X("i"), y=V(1), y2=V(h))
    layers = [hgrid, vgrid]
    if len(minor):
        layers.append(alt.Chart(pd.DataFrame({"v": list(minor)})).mark_rule(stroke="black").encode(x=V(W), x2=V(W + 4), y=Y("v", sc)))
    d = pd.DataFrame({"v": ticks, "t": labels})
    layers.append(alt.Chart(d).mark_point(shape="triangle-right", filled=True, size=45, color=arrow_color, opacity=1).encode(x=V(W + 4), y=Y("v", sc)))
    layers.append(alt.Chart(d).mark_text(align="left", baseline="middle", font=FONT, fontSize=13, color="black").encode(x=V(W + 9), y=Y("v", sc), text="t:N"))
    layers.append(span(h, 0, h, axis_color, W - 0.75, W + 0.75))
    return layers

def separator(h):
    return span(h, h - 2.25, h + 2.25, "#808080")

def tag(value, text, bg, fg, sc, h, edge=None):
    lo, hi = sc.domain
    unit = (hi - lo) / h
    def band(half):
        return pd.DataFrame({"u": [value - half * unit], "w": [value + half * unit]})
    d = pd.DataFrame({"v": [value], "t": [text]})
    out = []
    if edge:
        out.append(alt.Chart(band(9)).mark_rect(color=edge).encode(x=V(W + 5), x2=V(W + TAIL), y=Y("u", sc), y2=alt.Y2("w")))
    out.append(alt.Chart(band(7.5)).mark_rect(color=bg).encode(x=V(W + 5), x2=V(W + TAIL), y=Y("u", sc), y2=alt.Y2("w")))
    out.append(alt.Chart(d).mark_point(shape="triangle-left", filled=True, size=40, color=edge or bg, opacity=1).encode(x=V(W + 3), y=Y("v", sc)))
    if text:
        out.append(alt.Chart(d).mark_text(align="left", baseline="middle", font=FONT, fontSize=11, color=fg).encode(x=V(W + 8), y=Y("v", sc), text="t:N"))
    return out

def poly(i, v, sc, color, width=1.3):
    d = pd.DataFrame({"i": i, "v": v})
    return alt.Chart(d).mark_line(color=color, strokeWidth=width, clip=True).encode(x=X("i"), y=Y("v", sc), order="i:Q")

def segments(rows, sc, color, width, dash=None):
    recs = []
    for n, (a, b, c, e) in enumerate(rows):
        recs += [{"s": n, "i": a, "v": b}, {"s": n, "i": c, "v": e}]
    kw = dict(color=color, strokeWidth=width, clip=True)
    if dash:
        kw["strokeDash"] = dash
    return alt.Chart(pd.DataFrame(recs)).mark_line(**kw).encode(x=X("i"), y=Y("v", sc), detail="s:N")

# ---------- main panel ----------
H1 = 596
S1 = scale(129.62, 149.354)
c = pd.DataFrame(CANDLES, columns=["o", "h", "l", "c"])
c["i"] = bar_i[: len(c)]
c["fill"] = ["white" if b >= a else "black" for a, b in zip(c.o, c.c)]
hl = c[c.i.isin(MAGENTA_BARS + CYAN_BARS)].copy()
hl["col"] = ["#ff00ff" if i in MAGENTA_BARS else "#00e8ff" for i in hl.i]

T1 = list(range(130, 150, 2))
main = frame(S1, H1, T1, [f"{t:.2f}" for t in T1], minor=list(range(131, 149, 2)))
for lv, tx in zip(FIB_LEVELS, FIB_TEXTS):
    d = pd.DataFrame({"i": [260], "i2": [480], "v": [lv], "t": [tx]})
    main.append(alt.Chart(d).mark_rule(stroke="#aaaaee", strokeWidth=1.1).encode(x=X("i"), x2=X2("i2"), y=Y("v", S1)))
    main.append(alt.Chart(d).mark_text(align="left", baseline="bottom", dx=1, dy=-1, font=FONT, fontSize=11, color="#b4b4f0").encode(x=X("i"), y=Y("v", S1), text="t:N"))
main.append(alt.Chart(hl).mark_bar(width=5, clip=True).encode(x=X("i"), y=Y("l", S1), y2=alt.Y2("h"), color=alt.Color("col:N", scale=None)))
main.append(alt.Chart(c).mark_rule(color="black", strokeWidth=1.1, clip=True).encode(x=X("i"), y=Y("l", S1), y2=alt.Y2("h")))
main.append(alt.Chart(c).mark_bar(width=3, stroke="black", strokeWidth=0.9, clip=True).encode(x=X("i"), y=Y("o", S1), y2=alt.Y2("c"), color=alt.Color("fill:N", scale=None)))
main.append(poly(MA_RED_I, MA_RED_P, S1, "#ff0000"))
main.append(poly(MA_GREEN_I, MA_GREEN_P, S1, "#009a00"))
main.append(poly(MA_BLUE_I, MA_BLUE_P, S1, "#0000ff"))
main.append(segments(RED_SOLID, S1, "#c8505c", 1.4))
main.append(segments(RED_DASH, S1, "#c8505c", 1.4, [9, 6]))
main.append(segments(GREEN_SOLID, S1, "#30a56e", 2.4))
main.append(segments(GREEN_DASH, S1, "#30a56e", 2.4, [11, 6]))
main.append(alt.Chart(pd.DataFrame(BUY_MARKS, columns=["i", "v"])).mark_point(shape="triangle-up", filled=True, size=85, color="#00e000", opacity=1).encode(x=X("i"), y=Y("v", S1)))
main.append(alt.Chart(pd.DataFrame(SELL_MARKS, columns=["i", "v"])).mark_point(shape="triangle-down", filled=True, size=85, color="#ff0000", opacity=1).encode(x=X("i"), y=Y("v", S1)))
main += tag(142.7004, "142.7004", "#ff0000", "black", S1, H1)
main += tag(142.3935, "142.3935", "#0a8f0a", "white", S1, H1)
main += tag(140.6986, "140.6986", "#0000e0", "white", S1, H1)
main += tag(140.29, "140.29", "black", "white", S1, H1)
main.append(separator(H1))
p1 = alt.layer(*main).properties(width=W, height=H1)

# ---------- oscillator ----------
H2 = 77
S2 = scale(-33.9, 86.4)
osc = frame(S2, H2, [50], ["50"], grid_ticks=[50], minor=[0, 25, 75, -25])
o = pd.DataFrame({"i": bar_i[: len(OSC_HIST)], "v": OSC_HIST})
o["col"] = ["#ff00ff" if i in MAGENTA_HIST else "#10b4f0" for i in o.i]
o["z"] = 0
osc.append(alt.Chart(o).mark_bar(width=2, clip=True).encode(x=X("i"), y=Y("v", S2), y2=alt.Y2("z"), color=alt.Color("col:N", scale=None)))
osc.append(alt.Chart(pd.DataFrame({"v": [0]})).mark_rule(stroke="#808080", strokeWidth=1.5).encode(x=V(1), x2=V(W), y=Y("v", S2)))
osc.append(alt.Chart(pd.DataFrame({"v": [25]})).mark_rule(stroke="#e02020", strokeWidth=1.2, strokeDash=[10, 6]).encode(x=V(1), x2=V(W), y=Y("v", S2)))
osc.append(poly(OSC_SIG_I, OSC_SIG_V, S2, "#ff9a14", 2.2))
osc += tag(-8.2946, "-8.2946", "#00b4f0", "black", S2, H2, edge="black")
osc.append(separator(H2))
p2 = alt.layer(*osc).properties(width=W, height=H2)

# ---------- volume ----------
H3 = 52
S3 = scale(-1.73, 11.7)
vol = frame(S3, H3, [0, 5, 10], ["0", "5M", ""], axis_color="#0000ff", arrow_color="#0000ff")
v = pd.DataFrame({"i": bar_i[: len(VOLUME)], "v": VOLUME})
v["z"] = 0
vol.append(alt.Chart(v).mark_bar(width=2, color="#0000e0", clip=True).encode(x=X("i"), y=Y("v", S3), y2=alt.Y2("z")))
vol += tag(2.363, "2.363M", "#0000e0", "white", S3, H3)
vol.append(separator(H3))
p3 = alt.layer(*vol).properties(width=W, height=H3)

# ---------- MACD ----------
H4 = 93
S4 = scale(-2.05, 1.596)
mc = frame(S4, H4, [-1, 1], ["-1.00", "1.00"], minor=[-2, -0.5, 0.5, 1.5])
rows = []
for n, g in enumerate(PINK_GAPS):
    rows += [{"b": f"p{n}", "i": a, "u": u, "w": w, "col": "#ffb0b0"} for a, u, w in g]
for n, g in enumerate(GRAY_GAPS):
    rows += [{"b": f"g{n}", "i": a, "u": u, "w": w, "col": "#d8d8d8"} for a, u, w in g]
m = pd.DataFrame({"i": bar_i[: len(MACD_HIST)], "v": MACD_HIST})
m["z"] = 0
mc.append(alt.Chart(pd.DataFrame({"v": [0]})).mark_rule(stroke="#a8a8a8", strokeWidth=1.2).encode(x=V(1), x2=V(W), y=Y("v", S4)))
mc.append(alt.Chart(m).mark_bar(width=2, color="#10f010", clip=True).encode(x=X("i"), y=Y("v", S4), y2=alt.Y2("z")))
mc.append(alt.Chart(pd.DataFrame(rows)).mark_area(clip=True, interpolate="linear").encode(x=X("i"), y=Y("u", S4), y2=alt.Y2("w"), detail="b:N", color=alt.Color("col:N", scale=None)))
mc.append(poly(MACD_I, MACD_V, S4, "#ff0000", 1.3))
mc += tag(0.05, "", "#00ff00", "black", S4, H4)
mc += tag(-0.22, "", "#ff0000", "black", S4, H4)
mc += tag(-0.4233, "-0.4233", "white", "black", S4, H4, edge="black")
mc.append(separator(H4))
p4 = alt.layer(*mc).properties(width=W, height=H4)

# ---------- directional movement ----------
H5 = 77
S5 = scale(0.2, 55.2)
dm = frame(S5, H5, [20, 40], ["20", "40"], minor=[50, 30, 10])
area_rows = []
seg = 0
prev = None
for a, r, gr in zip(DMI_I, DMI_RED, DMI_GREEN):
    if prev is not None:
        pa, pr, pg = prev
        if (pr - pg) * (r - gr) < 0:
            t = (pr - pg) / ((pr - pg) - (r - gr))
            xa = pa + t * (a - pa)
            ya = pr + t * (r - pr)
            area_rows.append({"s": seg, "i": xa, "r": ya, "g": ya, "col": "#ffa8a8" if pr > pg else "#a0ffa0"})
            seg += 1
            area_rows.append({"s": seg, "i": xa, "r": ya, "g": ya, "col": "#ffa8a8" if r > gr else "#a0ffa0"})
    area_rows.append({"s": seg, "i": a, "r": r, "g": gr, "col": "#ffa8a8" if r >= gr else "#a0ffa0"})
    prev = (a, r, gr)
dm.append(alt.Chart(pd.DataFrame(area_rows)).mark_area(clip=True).encode(x=X("i"), y=Y("r", S5), y2=alt.Y2("g"), detail="s:N", color=alt.Color("col:N", scale=None)))
dm.append(poly(DMI_I, DMI_GREEN, S5, "#10e010", 1.2))
dm.append(poly(DMI_I, DMI_RED, S5, "#ff0000", 1.2))
dm.append(poly(ADX_I, ADX_V, S5, "#0000f0", 2.4))
dm += tag(22.7746, "22.7746", "#ff0000", "black", S5, H5)
dm += tag(16.3016, "16.3016", "#00ff00", "black", S5, H5)
dm.append(separator(H5))
p5 = alt.layer(*dm).properties(width=W, height=H5)

# ---------- RSI ----------
H6 = 83
S6 = scale(-13.4, 114.3)
rs = frame(S6, H6, [0, 50, 100], ["0", "50", "100"], minor=[25, 75])
rs.append(alt.Chart(pd.DataFrame({"v": [70]})).mark_rule(stroke="#ff0000", strokeWidth=1.3).encode(x=V(1), x2=V(W), y=Y("v", S6)))
rs.append(alt.Chart(pd.DataFrame({"v": [30]})).mark_rule(stroke="#00e000", strokeWidth=1.3).encode(x=V(1), x2=V(W), y=Y("v", S6)))
rs.append(poly(RSI_I, RSI_V, S6, "#0000f0", 2.2))
rs += tag(38.9527, "38.9527", "#0000e0", "white", S6, H6)
p6 = alt.layer(*rs).properties(width=W, height=H6)

# ---------- date strip and footer ----------
H7 = 35
days = pd.DataFrame({"i": [d * 10 + 4.8 for d in range(len(DAY_LABELS))], "t": DAY_LABELS})
mon = pd.DataFrame(MONTHS, columns=["t", "i"])
brk = pd.DataFrame({"i": MONTH_BREAKS})
foot = [
    span(H7, 0, 1.5, "black", 0, W),
    alt.Chart(brk).mark_rule(stroke="black", strokeWidth=1.2).encode(x=X("i"), y=V(0), y2=V(20)),
    alt.Chart(days).mark_text(font=FONT, fontSize=13, color="black", baseline="middle").encode(x=X("i"), y=V(8), text="t:N"),
    alt.Chart(mon).mark_text(font=FONT, fontSize=11.5, color="#202020", baseline="middle").encode(x=X("i"), y=V(18), text="t:N"),
]
wm = pd.DataFrame({"t": ["SMGroup"]})
foot.append(alt.Chart(wm).mark_text(font="DejaVu Sans", fontSize=25, fontWeight="bold", color="#e4e4e4", align="left", baseline="middle").encode(x=V(1700), y=V(18), text="t:N"))
for tx, px, al in [("GAZP RX Equity (ОАО Газпром) Graph 119", 0, "left"), ("90 дн. 60 мин.", 323, "left"), ("Copyright© 2015 Bloomberg Finance L.P.", 971, "left"), ("24-Aug-2015 07:16:14", 1897, "right")]:
    foot.append(alt.Chart(pd.DataFrame({"t": [tx]})).mark_text(font=FONT, fontSize=11.5, color="#202020", align=al, baseline="middle").encode(x=V(px), y=V(28), text="t:N"))
p7 = alt.layer(*foot).properties(width=W, height=H7)

chart = alt.vconcat(p1, p2, p3, p4, p5, p6, p7, spacing=0, bounds="flush").properties(padding=0, background="white").configure_view(stroke=None)
chart.save("out.html", embed_options={"renderer": "svg", "actions": False})
